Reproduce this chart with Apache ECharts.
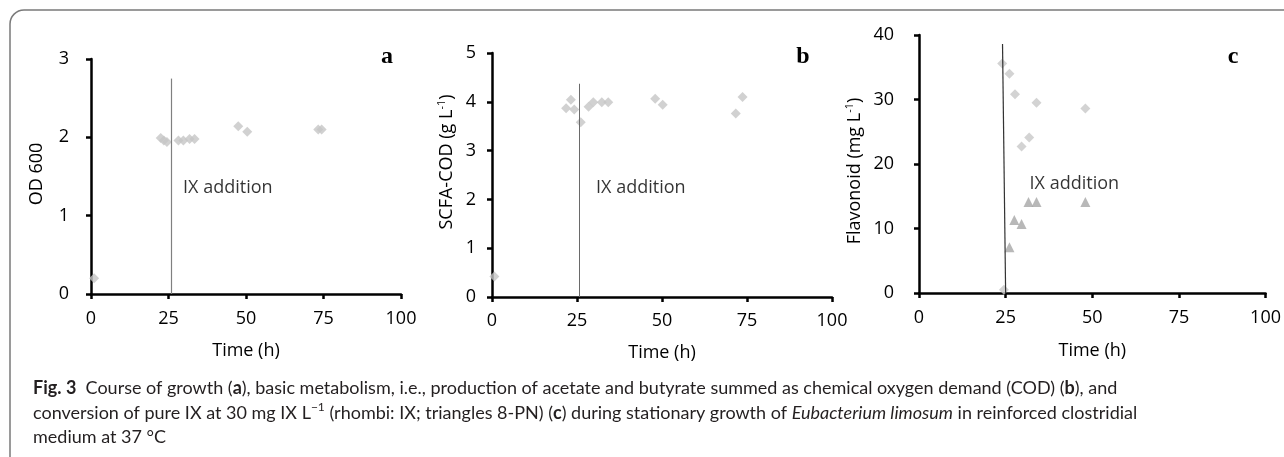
<!DOCTYPE html>
<html>
<head>
<meta charset="utf-8">
<script src="https://cdn.jsdelivr.net/npm/echarts@6/dist/echarts.min.js"></script>
<style>
html,body{margin:0;padding:0;background:#fff;}
#chart{width:1284px;height:457px;}
</style>
</head>
<body>
<div id="chart"></div>
<script>
// ---- data ----
var timeTicks = [0, 25, 50, 75, 100];
// Panel a: OD600
var timeA = [1, 22.5, 23.5, 24.5, 28.2, 29.8, 31.8, 33.4, 47.5, 50.4, 73.3, 74.4];
var odA   = [0.2, 1.99, 1.96, 1.94, 1.96, 1.96, 1.98, 1.98, 2.14, 2.07, 2.1, 2.1];
// Panel b: SCFA-COD (g/L)
var timeB = [0.7, 21.8, 23.2, 24.2, 26.1, 28.4, 29.8, 32.3, 34.2, 48, 50.2, 71.7, 73.7];
var codB  = [0.42, 3.87, 4.04, 3.84, 3.58, 3.9, 3.99, 3.99, 3.99, 4.06, 3.94, 3.76, 4.1];
// Panel c: flavonoids (mg/L)
var timeIX = [24.5, 24, 26.1, 27.7, 29.6, 31.8, 33.9, 48];
var ixC    = [0.5, 35.6, 34, 30.8, 22.7, 24.1, 29.5, 28.6];
var timePN = [26.1, 27.5, 29.6, 31.6, 33.9, 48];
var pnC    = [7.1, 11.3, 10.7, 14.1, 14.1, 14.1];
// IX addition marker lines [time at bottom, time at top, top value]
var additionA = [25.8, 25.8, 2.75];
var additionB = [26.0, 26.0, 5.03];
var additionB2 = [25.7, 25.7, 4.37];
var additionC = [25.0, 24.1, 38.6];
// "IX addition" label anchors [time, value]
var labelA = [29.7, 1.35];
var labelB = [30.6, 2.23];
var labelC = [31.9, 16.9];

function zip(xs, ys) { return xs.map(function (x, i) { return [x, ys[i]]; }); }

var FONT = '"Open Sans", Lato, sans-serif';
var CAPFONT = 'Lato, "Open Sans", sans-serif';
var TICKFS = 18;
var INK = '#000';

function xAxis(gi, gap, margin) {
  return {
    type: 'value', gridIndex: gi, min: 0, max: 100, interval: 25,
    name: 'Time (h)', nameLocation: 'middle', nameGap: gap,
    nameTextStyle: {fontFamily: FONT, fontSize: 18, color: INK},
    axisLine: {show: true, onZero: false, lineStyle: {color: '#000', width: 2.5}},
    axisTick: {show: true, length: 5, lineStyle: {color: '#000', width: 2.5}},
    axisLabel: {fontFamily: FONT, fontSize: TICKFS, color: INK, margin: margin},
    splitLine: {show: false}
  };
}
function yAxis(gi, max, interval, margin) {
  return {
    type: 'value', gridIndex: gi, min: 0, max: max, interval: interval,
    axisLine: {show: true, onZero: false, lineStyle: {color: '#000', width: 2.5}},
    axisTick: {show: true, length: 5, lineStyle: {color: '#000', width: 2.5}},
    axisLabel: {fontFamily: FONT, fontSize: TICKFS, color: INK, margin: margin},
    splitLine: {show: false}
  };
}
function vline(a, color, width) {
  return [{coord: [a[0], 0], lineStyle: {color: color, width: width}}, {coord: [a[1], a[2]]}];
}
function labelSeries(xi, yi, p) {
  return {
    type: 'scatter', xAxisIndex: xi, yAxisIndex: yi, symbolSize: 0, silent: true,
    data: [p],
    label: {show: true, position: 'right', distance: 0, formatter: 'IX addition',
      fontFamily: FONT, fontSize: 18, color: INK}
  };
}
function markLineOpt(lines) {
  return {symbol: 'none', silent: true, label: {show: false}, data: lines,
    lineStyle: {type: 'solid'}};
}

var diamondStyle = {color: '#c6c6c6'};

var chart = echarts.init(document.getElementById('chart'), null, {renderer: 'canvas'});
chart.setOption({
  animation: false,
  backgroundColor: '#fff',
  grid: [
    {left: 91, top: 59, width: 310, height: 235},
    {left: 492, top: 53, width: 340, height: 244},
    {left: 919, top: 35, width: 354, height: 258}
  ],
  xAxis: [xAxis(0, 48, 16), xAxis(1, 47, 15), xAxis(2, 49, 16)],
  yAxis: [yAxis(0, 3, 1, 22), yAxis(1, 5, 1, 16), yAxis(2, 40, 10, 25)],
  series: [
    {type: 'scatter', xAxisIndex: 0, yAxisIndex: 0, symbol: 'diamond', symbolSize: 10,
      itemStyle: diamondStyle, data: zip(timeA, odA), clip: false,
      markLine: markLineOpt([vline(additionA, '#808080', 1.2)])},
    {type: 'scatter', xAxisIndex: 1, yAxisIndex: 1, symbol: 'diamond', symbolSize: 10,
      itemStyle: diamondStyle, data: zip(timeB, codB), clip: false,
      markLine: markLineOpt([vline(additionB, '#a0a0a0', 1.6), vline(additionB2, '#6a6a6a', 1)])},
    {type: 'scatter', xAxisIndex: 2, yAxisIndex: 2, symbol: 'diamond', symbolSize: 10,
      itemStyle: {color: '#c8c8c8'}, data: zip(timeIX, ixC), clip: false},
    {type: 'scatter', xAxisIndex: 2, yAxisIndex: 2, symbol: 'triangle', symbolSize: 10,
      itemStyle: {color: '#a6a6a6'}, data: zip(timePN, pnC), clip: false,
      markLine: markLineOpt([vline(additionC, '#333333', 1.2)])},
    labelSeries(0, 0, labelA),
    labelSeries(1, 1, labelB),
    labelSeries(2, 2, labelC)
  ],
  graphic: [
    {type: 'rect', silent: true, shape: {x: 10, y: 10, width: 1300, height: 470, r: 14},
      style: {fill: 'none', stroke: '#7a7a7a', lineWidth: 1.5}},
    {type: 'text', x: 387, y: 57, style: {text: 'a', font: 'bold 24px "Liberation Serif", serif', fill: '#000', align: 'center', verticalAlign: 'middle'}},
    {type: 'text', x: 803, y: 57, style: {text: 'b', font: 'bold 24px "Liberation Serif", serif', fill: '#000', align: 'center', verticalAlign: 'middle'}},
    {type: 'text', x: 1233, y: 57, style: {text: 'c', font: 'bold 24px "Liberation Serif", serif', fill: '#000', align: 'center', verticalAlign: 'middle'}},
    {type: 'text', x: 37, y: 174, rotation: Math.PI / 2,
      style: {text: 'OD 600', fontFamily: FONT, fontSize: 18, fill: INK, align: 'center', verticalAlign: 'middle'}},
    {type: 'text', x: 447, y: 162, rotation: Math.PI / 2,
      style: {text: 'SCFA-COD (g L{sup|-1})', fontFamily: FONT, fontSize: 18, fill: INK, align: 'center', verticalAlign: 'middle',
        lineHeight: 22, rich: {sup: {fontFamily: FONT, fontSize: 11, fill: INK, verticalAlign: 'top', lineHeight: 22}}}},
    {type: 'text', x: 855, y: 171, rotation: Math.PI / 2,
      style: {text: 'Flavonoid (mg L{sup|-1})', fontFamily: FONT, fontSize: 18, fill: INK, align: 'center', verticalAlign: 'middle',
        lineHeight: 22, rich: {sup: {fontFamily: FONT, fontSize: 11, fill: INK, verticalAlign: 'top', lineHeight: 22}}}},
    {type: 'text', x: 33, y: 388,
      style: {text: '{fb|Fig. 3}  Course of growth ({b|a}), basic metabolism, i.e., production of acetate and butyrate summed as chemical oxygen demand (COD) ({b|b}), and',
        fontFamily: CAPFONT, fontSize: 18, fill: '#231f20', align: 'left', verticalAlign: 'middle', lineHeight: 24,
        rich: {fb: {fontFamily: CAPFONT, fontSize: 18, fontWeight: 'bold', fill: '#231f20', lineHeight: 24},
               b: {fontFamily: CAPFONT, fontSize: 18, fontWeight: 'bold', fill: '#231f20', lineHeight: 24}}}},
    {type: 'text', x: 33, y: 413,
      style: {text: 'conversion of pure IX at 30 mg IX L{sup|\u22121} (rhombi: IX; triangles 8-PN) ({b|c}) during stationary growth of {i|Eubacterium limosum} in reinforced clostridial',
        fontFamily: CAPFONT, fontSize: 18, fill: '#231f20', align: 'left', verticalAlign: 'middle', lineHeight: 24,
        rich: {b: {fontFamily: CAPFONT, fontSize: 18, fontWeight: 'bold', fill: '#231f20', lineHeight: 24},
               i: {fontFamily: CAPFONT, fontSize: 18, fontStyle: 'italic', fill: '#231f20', lineHeight: 24},
               sup: {fontFamily: CAPFONT, fontSize: 12, fill: '#231f20', verticalAlign: 'top', lineHeight: 24}}}},
    {type: 'text', x: 33, y: 437,
      style: {text: 'medium at 37 \u00b0C', fontFamily: CAPFONT, fontSize: 18, fill: '#231f20', align: 'left', verticalAlign: 'middle'}}
  ]
});
</script>
</body>
</html>
